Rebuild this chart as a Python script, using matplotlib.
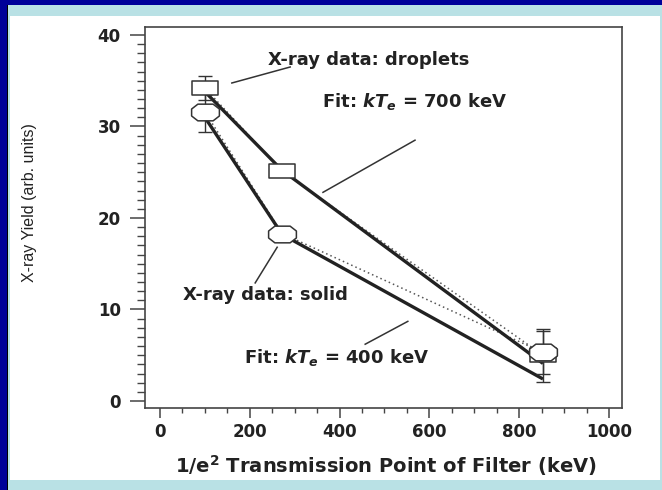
import matplotlib
matplotlib.use('Agg')
import matplotlib.pyplot as plt
from matplotlib.path import Path
from matplotlib.patches import Rectangle
from matplotlib.ticker import MultipleLocator
from matplotlib import font_manager

# ---------------- data ----------------
filter_kev = [100, 272, 853]
droplet_yield = [34.2, 25.1, 5.0]
droplet_err = [1.3, 0.5, 2.9]
solid_yield = [31.6, 18.3, 5.3]
solid_err = [2.2, 0.5, 2.3]
fit700_yield = [33.8, 25.2, 4.1]
fit400_yield = [31.0, 18.2, 2.4]

x_ticks = [0, 200, 400, 600, 800, 1000]
y_ticks = [0, 10, 20, 30, 40]

labels = ["X-ray data: droplets", r"Fit: $kT_e$ = 700 keV",
          "X-ray data: solid", r"Fit: $kT_e$ = 400 keV"]
label_pos = [(465, 37.3), (568, 32.7), (234, 11.6), (394, 4.8)]
leaders = [((160, 34.75), (290, 36.5)),
           ((363, 22.8), (568, 28.5)),
           ((261, 16.8), (212, 12.9)),
           ((457, 6.2), (552, 8.7))]

# ---------------- style ----------------
plt.rcParams['font.family'] = ['DejaVu Sans']
plt.rcParams['mathtext.fontset'] = 'custom'
plt.rcParams['mathtext.rm'] = 'DejaVu Sans:bold'
plt.rcParams['mathtext.bf'] = 'DejaVu Sans:bold'
plt.rcParams['mathtext.it'] = 'DejaVu Sans:italic:bold'

names = {f.name for f in font_manager.fontManager.ttflist}
if 'Liberation Sans Narrow' in names:
    ylab_font = dict(family='Liberation Sans Narrow', size=14)
else:
    ylab_font = dict(family='Liberation Sans', size=11.5)

W, H = 662, 490
fig = plt.figure(figsize=(W / 100, H / 100), dpi=100, facecolor='white')

def px_rect(x0, y0, w, h, color):
    # pixel coords from top-left
    fig.add_artist(Rectangle((x0 / W, 1 - (y0 + h) / H), w / W, h / H,
                             transform=fig.transFigure, facecolor=color,
                             edgecolor='none', zorder=0))

dark_blue = '#000099'
light_blue = '#b9e1e5'
px_rect(0, 0, W, 5, dark_blue)
px_rect(0, 0, 6.5, H, dark_blue)
px_rect(6.5, 5, 1.5, H, '#000000')
px_rect(8, 5, 1.5, H, light_blue)
px_rect(8, 5, W, 11, light_blue)
px_rect(0, 480, W, 10, light_blue)
px_rect(0, 480, 6.5, 10, dark_blue)
px_rect(6.5, 480, 1.5, 10, '#000000')
px_rect(660, 5, 2, H, light_blue)

left, right, top, bottom = 145, 622, 27, 408
ax = fig.add_axes([left / W, 1 - bottom / H, (right - left) / W, (bottom - top) / H])
ax.set_facecolor('white')
ax.set_xlim(-33.4, 1029)
ax.set_ylim(-0.77, 40.87)

ink = '#222222'
for s in ax.spines.values():
    s.set_color('#444444')
    s.set_linewidth(1.2)

ax.set_xticks(x_ticks)
ax.set_yticks(y_ticks)
ax.xaxis.set_minor_locator(MultipleLocator(50))
ax.yaxis.set_minor_locator(MultipleLocator(1))
ax.tick_params(axis='x', which='major', direction='out', length=7, width=1.1,
               color='#444444', pad=3.5, labelsize=12, labelcolor=ink)
ax.tick_params(axis='x', which='minor', direction='out', length=3.5, width=1.0,
               color='#444444')
ax.tick_params(axis='y', which='major', direction='out', length=11, width=1.1,
               color='#444444', pad=6.5, labelsize=12, labelcolor=ink)
ax.tick_params(axis='y', which='minor', direction='out', length=5.5, width=1.0,
               color='#444444')
for lab in ax.get_xticklabels() + ax.get_yticklabels():
    lab.set_fontweight('bold')

ax.set_xlabel(r"1/e$^2$ Transmission Point of Filter (keV)", fontsize=14,
              fontweight='bold', color=ink)
ax.xaxis.set_label_coords(0.505, -0.15)
ax.xaxis.label.set_va('center')
ax.set_ylabel("X-ray Yield (arb. units)", color=ink, **ylab_font)
ax.yaxis.set_label_coords(-0.243, 0.538)
ax.yaxis.label.set_va('center')

# markers
rect_marker = Path([(-1, -0.54), (1, -0.54), (1, 0.54), (-1, 0.54), (-1, -0.54)],
                   [Path.MOVETO, Path.LINETO, Path.LINETO, Path.LINETO, Path.CLOSEPOLY])
hy = 0.6
oct_verts = [(-0.55, hy), (0.55, hy), (1, 0.25), (1, -0.25), (0.55, -hy),
             (-0.55, -hy), (-1, -0.25), (-1, 0.25), (-0.55, hy)]
oct_marker = Path(oct_verts, [Path.MOVETO] + [Path.LINETO] * 7 + [Path.CLOSEPOLY])

# dotted data-connecting lines
ax.plot(filter_kev, droplet_yield, linestyle=(0, (1, 2)), lw=1.1, color='#555555', zorder=2)
ax.plot(filter_kev, solid_yield, linestyle=(0, (1, 2)), lw=1.1, color='#555555', zorder=2)

# fits
ax.plot(filter_kev, fit700_yield, lw=2.4, color='#222222', zorder=3, solid_capstyle='butt')
ax.plot(filter_kev, fit400_yield, lw=2.4, color='#222222', zorder=3, solid_capstyle='butt')

# error bars
ax.errorbar(filter_kev, droplet_yield, yerr=droplet_err, fmt='none', ecolor='#333333',
            elinewidth=1.0, capsize=4.7, capthick=1.0, zorder=3.5)
ax.errorbar(filter_kev, solid_yield, yerr=solid_err, fmt='none', ecolor='#333333',
            elinewidth=1.0, capsize=4.7, capthick=1.0, zorder=3.5)

# markers
ax.plot(filter_kev, droplet_yield, linestyle='none', marker=rect_marker, markersize=18.7,
        markerfacecolor='white', markeredgecolor='#333333', markeredgewidth=1.1, zorder=4)
ax.plot(filter_kev, solid_yield, linestyle='none', marker=oct_marker, markersize=20,
        markerfacecolor='white', markeredgecolor='#333333', markeredgewidth=1.1, zorder=4.5)

# annotations
for text, (tx, ty) in zip(labels, label_pos):
    ax.text(tx, ty, text, ha='center', va='center', fontsize=13,
            fontweight='bold', color=ink, zorder=5)
for (p0, p1) in leaders:
    ax.plot([p0[0], p1[0]], [p0[1], p1[1]], lw=1.1, color='#333333', zorder=5)

fig.savefig('out.png', dpi=100, facecolor='white')
